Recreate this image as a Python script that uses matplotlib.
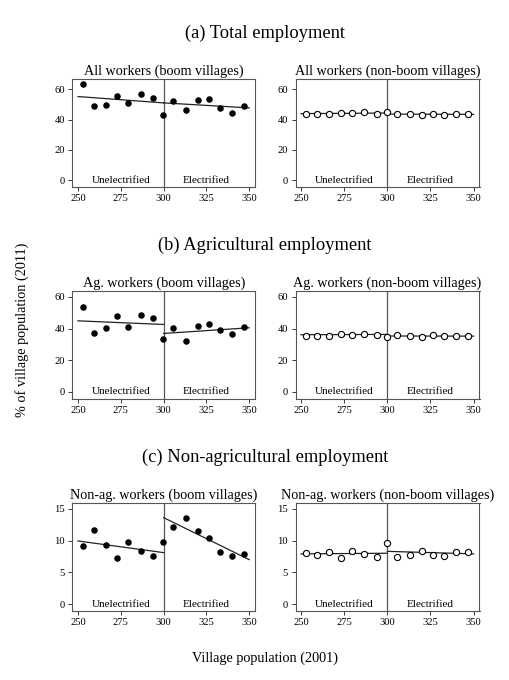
import numpy as np
import matplotlib
matplotlib.use("Agg")
import matplotlib.pyplot as plt

plt.rcParams['font.family'] = ['Liberation Serif', 'DejaVu Serif']

# bin centres (village population 2001)
pop_bins = [252.7, 259.3, 266.2, 273.0, 279.5, 286.6, 294.0, 299.7,
            305.7, 313.2, 320.1, 326.5, 333.1, 340.0, 347.0]

# (a) total employment
all_boom = [63.3, 49.3, 50.0, 55.8, 50.9, 57.1, 54.2, 43.3,
            52.4, 46.2, 53.3, 53.6, 47.8, 44.7, 49.3]
all_nonboom = [44.0, 43.8, 44.0, 44.2, 44.7, 45.1, 43.8, 45.1,
               43.6, 43.8, 42.9, 44.0, 42.9, 43.6, 43.8]
# fitted lines: value at 250, 300 (left), 300 (right), 350
all_boom_fit = [55.3, 51.1, 51.1, 47.8]
all_nonboom_fit = [44.0, 44.4, 43.7, 43.5]

# (b) agricultural employment
ag_boom = [53.7, 37.5, 40.5, 48.0, 40.7, 48.4, 46.5, 33.1,
           40.3, 32.3, 41.7, 42.8, 39.2, 36.7, 41.1]
ag_nonboom = [35.6, 35.6, 35.4, 36.5, 36.1, 36.7, 36.1, 34.8,
              35.8, 35.6, 34.4, 36.1, 35.2, 35.2, 35.2]
ag_boom_fit = [44.9, 42.6, 36.9, 40.5]
ag_nonboom_fit = [36.1, 36.3, 35.3, 35.2]

# (c) non-agricultural employment
nonag_boom = [9.2, 11.6, 9.3, 7.2, 9.8, 8.3, 7.5, 9.8,
              12.1, 13.5, 11.5, 10.4, 8.2, 7.6, 7.9]
nonag_nonboom = [8.1, 7.7, 8.2, 7.3, 8.4, 7.9, 7.4, 9.6,
                 7.45, 7.8, 8.3, 7.8, 7.5, 8.15, 8.15]
nonag_boom_fit = [9.93, 8.1, 13.6, 7.0]
nonag_nonboom_fit = [7.9, 8.0, 8.3, 7.9]

section_titles = ['(a) Total employment', '(b) Agricultural employment',
                  '(c) Non-agricultural employment']
panel_titles = [['All workers (boom villages)', 'All workers (non-boom villages)'],
                ['Ag. workers (boom villages)', 'Ag. workers (non-boom villages)'],
                ['Non-ag. workers (boom villages)', 'Non-ag. workers (non-boom villages)']]
series = [[(all_boom, all_boom_fit), (all_nonboom, all_nonboom_fit)],
          [(ag_boom, ag_boom_fit), (ag_nonboom, ag_nonboom_fit)],
          [(nonag_boom, nonag_boom_fit), (nonag_nonboom, nonag_nonboom_fit)]]
yticks = [[0, 20, 40, 60], [0, 20, 40, 60], [0, 5, 10, 15]]
ylims = [(-4.2, 66.9), (-4.3, 63.8), (-1.0, 15.9)]
xticks = [250, 275, 300, 325, 350]

W, H = 510, 680
fig = plt.figure(figsize=(W / 100, H / 100), dpi=100)

row_tops = [79, 291, 503]
row_h = 107.5
col_x = [(72.5, 255), (295.5, 479.5)]
title_y = [33, 245, 457]

gray = '#3a3a3a'
for r in range(3):
    fig.text(265 / W, 1 - title_y[r] / H, section_titles[r], ha='center', va='center',
             fontsize=13.3)
    for c in range(2):
        x0, x1 = col_x[c]
        ax = fig.add_axes([x0 / W, 1 - (row_tops[r] + row_h) / H, (x1 - x0) / W, row_h / H])
        vals, fit = series[r][c]
        if c == 0:
            ax.scatter(pop_bins, vals, s=22, color='black', zorder=3, linewidths=0)
        else:
            ax.scatter(pop_bins, vals, s=20, facecolors='white', edgecolors='black',
                       linewidths=0.8, zorder=3)
        ax.plot([250, 300], fit[:2], color='#222222', lw=0.9, zorder=2)
        ax.plot([300, 350], fit[2:], color='#222222', lw=0.9, zorder=2)
        ax.axvline(300, color='#555555', lw=0.9, zorder=1)
        ax.set_xlim(246.8, 353.4)
        ax.set_ylim(*ylims[r])
        ax.set_xticks(xticks)
        ax.set_yticks(yticks[r])
        ax.tick_params(labelsize=7.6, length=3, width=0.7, color=gray, pad=2.5)
        for s in ax.spines.values():
            s.set_color('#555555')
            s.set_linewidth(0.8)
        ax.set_title(panel_titles[r][c], fontsize=10.2, pad=3)
        ax.text(275, 0, 'Unelectrified', ha='center', va='center', fontsize=8)
        ax.text(325, 0, 'Electrified', ha='center', va='center', fontsize=8)

fig.text(22 / W, 1 - 330 / H, '% of village population (2011)', rotation=90,
         ha='center', va='center', fontsize=10.3)
fig.text(265 / W, 1 - 658 / H, 'Village population (2001)', ha='center', va='center',
         fontsize=10.3)

fig.savefig('out.png', dpi=100, facecolor='white')
